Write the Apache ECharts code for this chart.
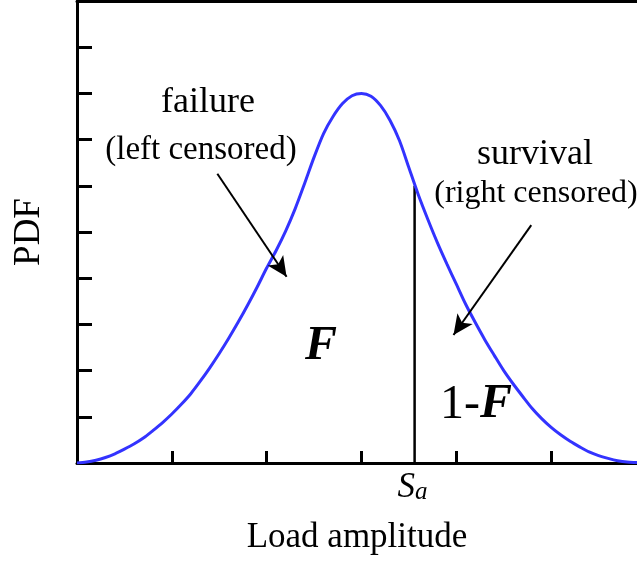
<!DOCTYPE html>
<html>
<head>
<meta charset="utf-8">
<script src="https://cdn.jsdelivr.net/npm/echarts@6/dist/echarts.min.js"></script>
<style>
  html, body { margin: 0; padding: 0; background: #fff; overflow: hidden; }
  #chart { width: 637px; height: 563px; }
</style>
</head>
<body>
<div id="chart"></div>
<script>
// Probability density of the load amplitude, sampled every 0.1
const loadAmplitude = [
  0.0, 0.1, 0.2, 0.3, 0.4, 0.5, 0.6, 0.7, 0.8, 0.9,
  1.0, 1.1, 1.2, 1.3, 1.4, 1.5, 1.6, 1.7, 1.8, 1.9,
  2.0, 2.1, 2.2, 2.3, 2.4, 2.5, 2.6, 2.7, 2.8, 2.9,
  3.0, 3.1, 3.2, 3.3, 3.4, 3.5, 3.6, 3.7, 3.8, 3.9,
  4.0, 4.1, 4.2, 4.3, 4.4, 4.5, 4.6, 4.7, 4.8, 4.9,
  5.0, 5.1, 5.2, 5.3, 5.4, 5.5, 5.6, 5.7, 5.8, 5.9, 6.0
];
const pdfValues = [
  0.00, 0.02, 0.06, 0.12, 0.20, 0.30, 0.41, 0.54, 0.70, 0.87,
  1.06, 1.27, 1.50, 1.77, 2.06, 2.37, 2.70, 3.05, 3.42, 3.81,
  4.22, 4.60, 5.02, 5.50, 6.05, 6.62, 7.13, 7.50, 7.78, 7.95,
  8.00, 7.94, 7.74, 7.42, 6.98, 6.39, 5.80, 5.27, 4.77, 4.31,
  3.87, 3.43, 3.04, 2.67, 2.33, 2.00, 1.71, 1.44, 1.18, 0.96,
  0.77, 0.61, 0.47, 0.35, 0.24, 0.16, 0.10, 0.05, 0.02, 0.01, 0.00
];

// Applied load level S_a and the density there
const saValue = 3.56;
const saPdf = 6.0;

// Annotation arrows: [from, to] in data units
const failureArrow  = [[1.48, 6.26], [2.21, 4.03]];
const survivalArrow = [[4.79, 5.15], [3.97, 2.77]];

const SERIF = "'Liberation Serif', 'Times New Roman', serif";

const chart = echarts.init(document.getElementById('chart'));

const curve = loadAmplitude.map((x, i) => [x, pdfValues[i]]);

chart.setOption({
  animation: false,
  backgroundColor: '#fff',
  // the frame continues a little past the right edge of the canvas
  grid: { left: 77, top: 1, width: 569, bottom: 100, containLabel: false, outerBoundsMode: 'none' },
  xAxis: [{
    type: 'value', min: 0, max: 6, interval: 1,
    name: 'Load amplitude', nameLocation: 'middle', nameGap: 57,
    nameTextStyle: { fontFamily: SERIF, fontSize: 35, color: '#000', padding: [0, 9, 0, 0] },
    axisLine: { show: true, onZero: false, lineStyle: { color: '#000', width: 3 } },
    axisTick: { show: true, inside: true, length: 12, lineStyle: { color: '#000', width: 3 } },
    axisLabel: { show: false },
    splitLine: { show: false }
  }, {
    type: 'value', min: 0, max: 6, position: 'top',
    axisLine: { show: true, onZero: false, lineStyle: { color: '#000', width: 3 } },
    axisTick: { show: false }, axisLabel: { show: false }, splitLine: { show: false }
  }],
  yAxis: [{
    type: 'value', min: 0, max: 10, interval: 1,
    name: 'PDF', nameLocation: 'middle', nameGap: 29,
    nameTextStyle: { fontFamily: SERIF, fontSize: 37, color: '#000' },
    axisLine: { show: true, onZero: false, lineStyle: { color: '#000', width: 3 } },
    axisTick: { show: true, inside: true, length: 15, lineStyle: { color: '#000', width: 3 } },
    axisLabel: { show: false },
    splitLine: { show: false }
  }],
  series: [{
    type: 'line',
    data: curve,
    smooth: 0.3,
    symbol: 'none',
    lineStyle: { color: '#3333ff', width: 3 },
    z: 3,
    markLine: {
      silent: true,
      symbol: ['none', 'arrow'],
      symbolSize: [14, 20],
      label: { show: false },
      lineStyle: { color: '#000', width: 2, type: 'solid' },
      data: [
        [{ coord: failureArrow[0] }, { coord: failureArrow[1] }],
        [{ coord: survivalArrow[0] }, { coord: survivalArrow[1] }]
      ]
    }
  }, {
    type: 'line',
    data: [[saValue, 0], [saValue, saPdf]],
    symbol: 'none',
    lineStyle: { color: '#000', width: 2.5 },
    z: 2,
    markPoint: {
      symbol: 'circle', symbolSize: 0,
      data: [{ coord: [saValue, 0] }],
      label: {
        show: true, position: 'bottom', distance: 7, offset: [-2, 0],
        formatter: '{s|S}{a|a}',
        rich: {
          s: { fontFamily: SERIF, fontStyle: 'italic', fontSize: 35, color: '#000', verticalAlign: 'bottom' },
          a: { fontFamily: SERIF, fontStyle: 'italic', fontSize: 25, color: '#000', verticalAlign: 'bottom' }
        }
      }
    }
  }],
  graphic: [
    { type: 'text', x: 208, y: 103, style: { text: 'failure', font: '36px ' + SERIF, fill: '#000', align: 'center', verticalAlign: 'middle' } },
    { type: 'text', x: 201, y: 150, style: { text: '(left censored)', font: '33px ' + SERIF, fill: '#000', align: 'center', verticalAlign: 'middle' } },
    { type: 'text', x: 535, y: 155, style: { text: 'survival', font: '36px ' + SERIF, fill: '#000', align: 'center', verticalAlign: 'middle' } },
    { type: 'text', x: 536, y: 194, style: { text: '(right censored)', font: '32px ' + SERIF, fill: '#000', align: 'center', verticalAlign: 'middle' } },
    { type: 'text', x: 321, y: 347, style: { text: 'F', font: 'italic bold 48px ' + SERIF, fill: '#000', align: 'center', verticalAlign: 'middle' } },
    { type: 'text', x: 440, y: 405, style: {
        text: '{n|1-}{f|F}', align: 'left', verticalAlign: 'middle',
        rich: {
          n: { font: '48px ' + SERIF, fill: '#000' },
          f: { font: 'italic bold 48px ' + SERIF, fill: '#000' }
        }
      } }
  ]
});
</script>
</body>
</html>
